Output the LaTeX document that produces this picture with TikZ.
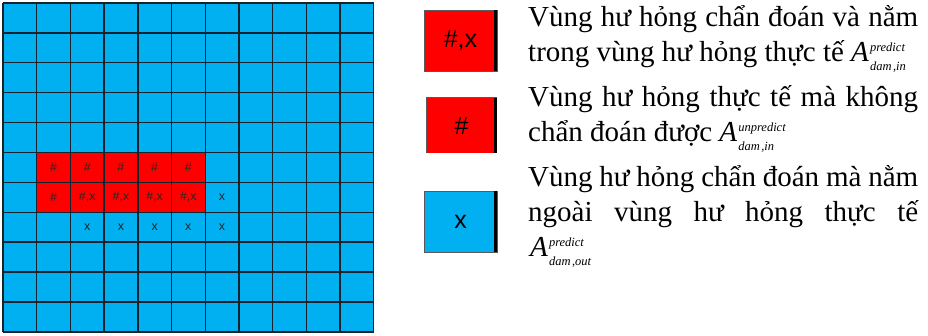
\documentclass[tikz,border=0pt]{standalone}
\usepackage{fontspec}
\setmainfont{Liberation Serif}
\newfontfamily\arialfont{Liberation Sans}
\usepackage{xcolor}
\usetikzlibrary{positioning}

\definecolor{cellblue}{HTML}{00B0F0}
\definecolor{cellred}{HTML}{FF0000}
\definecolor{gridline}{HTML}{16232E}

% A with stacked upper and lower index
\newcommand{\Adam}[2]{\textit{A}\kern1pt\raisebox{-9pt}{\vbox{\baselineskip=19pt\lineskiplimit=-100pt\hbox{\fontsize{12.5}{13}\selectfont\itshape #1}\hbox{\fontsize{12.5}{13}\selectfont\itshape #2}}}}

\tikzset{
  celltext/.style={font=\arialfont\fontsize{12.5}{12.5}\selectfont, text=black!85, inner sep=0pt},
  keybox/.style={minimum width=73pt, minimum height=61pt, inner sep=0pt, font=\arialfont\fontsize{25}{25}\selectfont},
  keytext/.style={anchor=base west, text width=390pt, align=justify, inner sep=0pt, font=\fontsize{29}{35}\selectfont}
}

\begin{document}
\begin{tikzpicture}[x=1pt, y=-1pt]
        \useasboundingbox (0,0) rectangle (928,336);

        % Grid
        \fill [cellblue] (3,3) rectangle (373.7,332);
        \fill [cellred] ({3+33.7},{3+5*29.9}) rectangle ({3+6*33.7},{3+7*29.9});
        \foreach \i in {0,...,11} {
            \draw [gridline, line width=1.4pt] ({3+\i*33.7},3) -- ({3+\i*33.7},332);
            \draw [gridline, line width=1.4pt] (3,{3+\i*29.9}) -- (373.7,{3+\i*29.9});
        }

        % Cell marks
        \foreach \c in {1,...,5}
            \node (top-\c) [celltext] at ({3+(\c+0.5)*33.7},{3+5.5*29.9}) {\#};
        \node (mid-1) [celltext] at ({3+1.5*33.7},{3+6.5*29.9}) {\#};
        \foreach \c in {2,...,5}
            \node (mid-\c) [celltext] at ({3+(\c+0.5)*33.7},{3+6.5*29.9}) {\#,x};
        \node (mid-6) [celltext] at ({3+6.5*33.7},{3+6.5*29.9}) {x};
        \foreach \c in {2,...,6}
            \node (low-\c) [celltext] at ({3+(\c+0.5)*33.7},{3+7.5*29.9}) {x};

        % Legend boxes
        \node (keyin) [keybox, fill=cellred, draw=gray!70!black, line width=0.6pt] at (460.5,40.5) {\#,x};
        \draw [line width=3.5pt] ([xshift=-1.75pt]keyin.north east) -- ([xshift=-1.75pt]keyin.south east);

        \node (keymiss) [keybox, fill=cellred, minimum width=71pt, minimum height=55pt] at (461.5,125.5) {\#};
        \draw [gray!70!black, line width=0.6pt] (keymiss.south west) -- (keymiss.north west) -- (keymiss.north east);
        \draw [line width=3.5pt] ([xshift=-1.75pt]keymiss.north east) -- ([xshift=-1.75pt]keymiss.south east);

        \node (keyout) [keybox, fill=cellblue, draw=gray!70!black, line width=0.6pt] at (460.5,221.5) {x};
        \draw [line width=3.5pt] ([xshift=-1.75pt]keyout.north east) -- ([xshift=-1.75pt]keyout.south east);

        % Legend texts
        \node (textin) [keytext] at (528,27) {Vùng hư hỏng chẩn đoán và nằm\linebreak trong vùng hư hỏng thực tế \Adam{predict}{dam\kern1.5pt,in}};
        \node (textmiss) [keytext] at (528,107) {Vùng hư hỏng thực tế mà không\linebreak chẩn đoán được \Adam{unpredict}{dam\kern1.5pt,in}};
        \node (textout) [keytext] at (528,187) {Vùng hư hỏng chẩn đoán mà nằm\linebreak ngoài vùng hư hỏng thực tế\linebreak \hspace*{2pt}\Adam{predict}{dam\kern1.5pt,out}};
\end{tikzpicture}
\end{document}
